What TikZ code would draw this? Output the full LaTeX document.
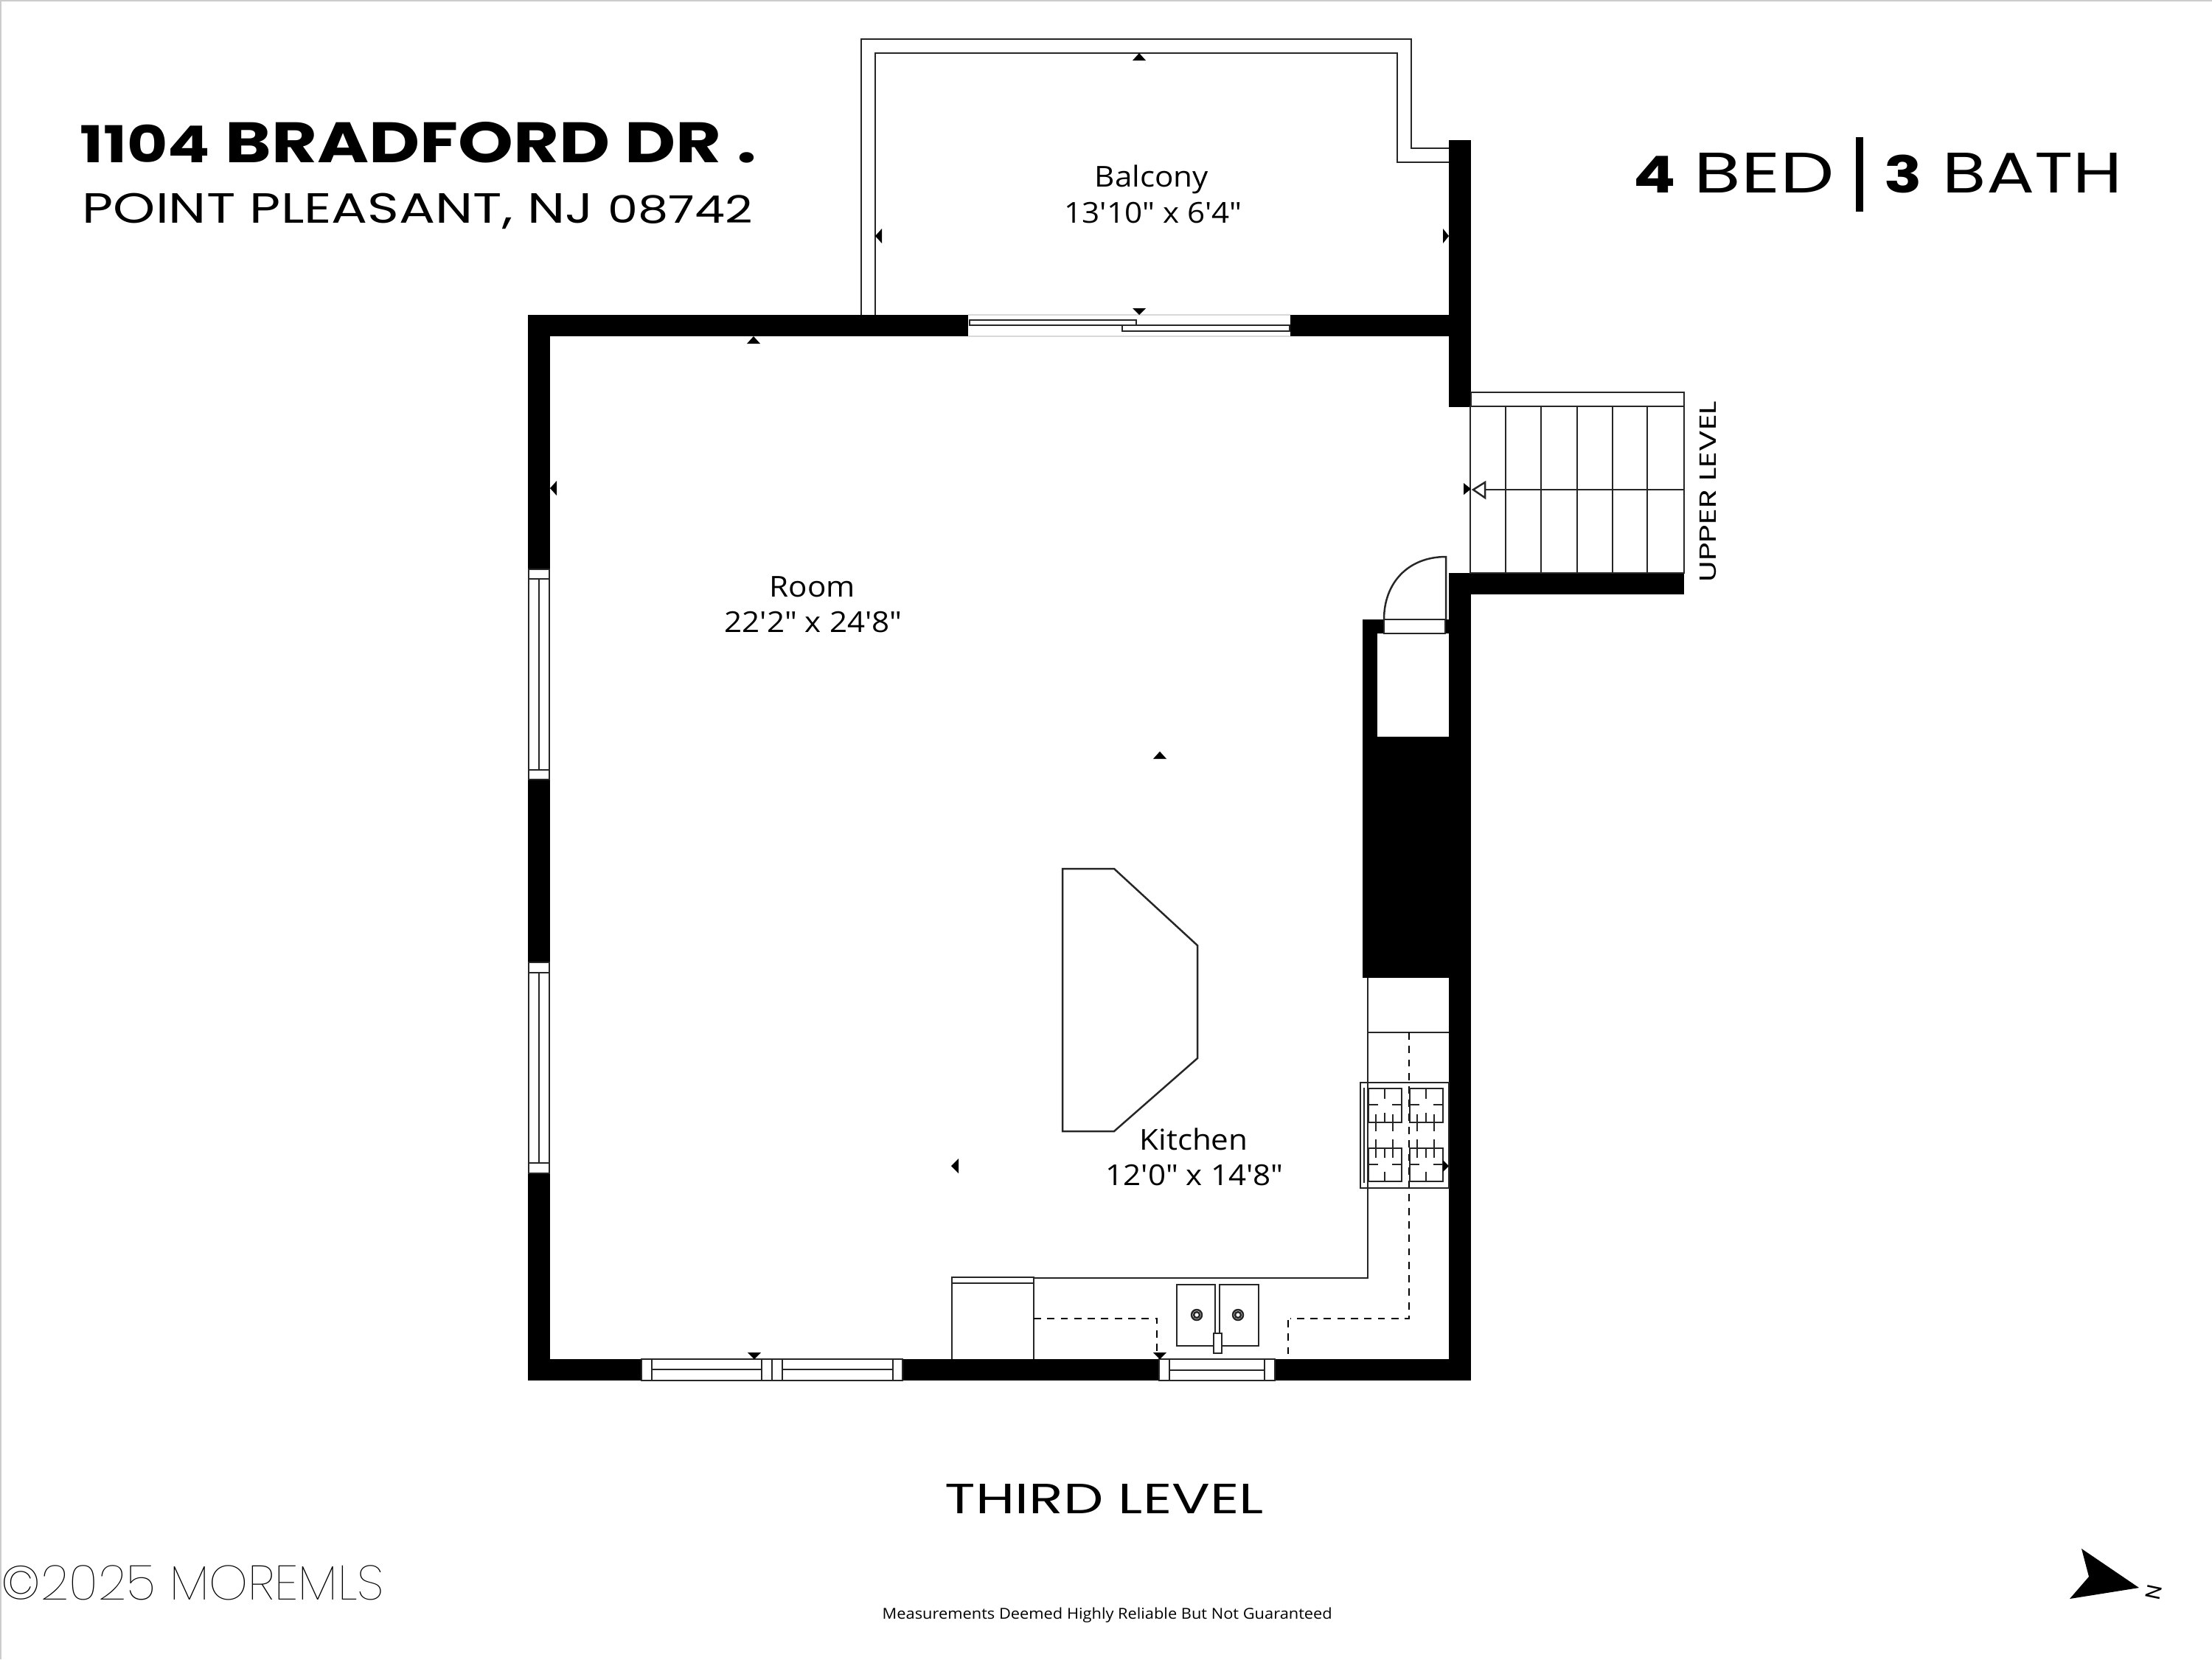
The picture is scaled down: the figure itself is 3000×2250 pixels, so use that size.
\documentclass[tikz,border=0pt]{standalone}
\usepackage{fontspec}
\setmainfont{Open Sans}
\newfontfamily\labelfont[FakeStretch=1.08]{Open Sans}
\newfontfamily\smallfont[FakeStretch=1.07]{Open Sans}
\newfontfamily\plainfont{Poppins}
\newfontfamily\headfont[FakeStretch=1.25]{Poppins}
\newfontfamily\townfont[FakeStretch=1.27]{Poppins}
\newfontfamily\widefont[FakeStretch=1.34]{Poppins}
\newfontfamily\boldfont[FakeStretch=1.23]{Poppins Bold}
\newfontfamily\thinfont[FakeStretch=1.02]{Poppins Thin}
\tikzset{
    wall/.style={fill=black},
    thinline/.style={line width=0.7pt,color=black!85},
    glazing/.style={thinline,fill=white},
    pipeline/.style={line width=0.7pt,dash pattern=on 2.8pt off 2.4pt},
    roomlabel/.style={inner sep=0pt,anchor=base,font=\labelfont\fontsize{11.1}{13}\selectfont},
    titlelabel/.style={inner sep=0pt,anchor=base west}
}

\begin{document}
\begin{tikzpicture}[x=0.01cm,y=-0.01cm]
    \useasboundingbox (0,0) rectangle (3000,2250);
    \draw[color=black!20,line width=0.6pt] (1,2250) -- (1,1) -- (3000,1);

    % balcony
    \draw[thinline] (1168,427) -- (1168,53) -- (1914,53) -- (1914,201) -- (1965,201);
    \draw[thinline] (1187,427) -- (1187,72) -- (1895,72) -- (1895,220) -- (1965,220);

    % walls
    \fill[wall] (716,427) rectangle (746,1872);
    \fill[wall] (716,427) rectangle (1313,456);
    \fill[wall] (1750,427) rectangle (1995,456);
    \fill[wall] (1965,190) rectangle (1995,552);
    \fill[wall] (1965,777) rectangle (1995,1872);
    \fill[wall] (1965,777) rectangle (2284,806);
    \fill[wall] (716,1843) rectangle (1995,1872);
    \fill[wall] (1848,840) rectangle (1868,1000);
    \fill[wall] (1848,999) rectangle (1965,1326);
    \fill[wall] (1848,840) rectangle (1877,859);
    \fill[wall] (1960,840) rectangle (1965,859);

    % sliding door
    \fill[white] (1313,427) rectangle (1750,456);
    \draw[color=black!15,line width=0.6pt] (1313,427) -- (1750,427);
    \draw[color=black!15,line width=0.6pt] (1313,456) -- (1750,456);
    \draw[glazing] (1315,434) rectangle (1541,441);
    \draw[glazing] (1522,441) rectangle (1749,449);

    % left windows
    \draw[glazing] (717,772) rectangle (745,1057);
    \draw[thinline] (717,785) -- (745,785);
    \draw[thinline] (717,1044) -- (745,1044);
    \draw[thinline] (731,785) -- (731,1044);
    \draw[glazing] (717,1305) rectangle (745,1591);
    \draw[thinline] (717,1319) -- (745,1319);
    \draw[thinline] (717,1577) -- (745,1577);
    \draw[thinline] (731,1319) -- (731,1577);

    % bottom windows
    \draw[glazing] (870,1843) rectangle (1224,1872);
    \draw[thinline] (884,1843) -- (884,1872);
    \draw[thinline] (1033,1843) -- (1033,1872);
    \draw[thinline] (1047,1843) -- (1047,1872);
    \draw[thinline] (1061,1843) -- (1061,1872);
    \draw[thinline] (1211,1843) -- (1211,1872);
    \draw[thinline] (884,1857) -- (1033,1857);
    \draw[thinline] (1061,1857) -- (1211,1857);
    \draw[glazing] (1572,1843) rectangle (1729,1872);
    \draw[thinline] (1586,1843) -- (1586,1872);
    \draw[thinline] (1715,1843) -- (1715,1872);
    \draw[thinline] (1586,1858) -- (1715,1858);

    % stairs
    \draw[glazing] (1995,532) rectangle (2284,551);
    \draw[thinline] (1994,551) rectangle (2284,777);
    \draw[thinline] (2042,551) -- (2042,777);
    \draw[thinline] (2090,551) -- (2090,777);
    \draw[thinline] (2139,551) -- (2139,777);
    \draw[thinline] (2187,551) -- (2187,777);
    \draw[thinline] (2234,551) -- (2234,777);
    \draw[thinline] (1998,664) -- (2284,664);
    \draw[glazing] (1998,664) -- (2014,654) -- (2014,675) -- cycle;

    % closet door
    \draw[thinline,fill=white] (1877,840) rectangle (1960,859);
    \draw[thinline] (1877,840) .. controls (1877,790) and (1910,755) .. (1961,755) -- (1961,840);

    % island
    \draw[thinline] (1441,1178) -- (1511,1178) -- (1624,1282) -- (1624,1435) -- (1511,1534) -- (1441,1534) -- cycle;

    % counter
    \draw[thinline] (1855,1326) -- (1855,1733) -- (1402,1733);
    \draw[thinline] (1855,1400) -- (1965,1400);
    \draw[thinline] (1291,1843) -- (1291,1732) -- (1402,1732) -- (1402,1843);
    \draw[thinline] (1291,1740) -- (1402,1740);
    \draw[pipeline] (1911,1400) -- (1911,1788) -- (1750,1788);
    \draw[pipeline] (1747,1790) -- (1747,1843);
    \draw[pipeline] (1402,1788) -- (1569,1788) -- (1569,1834);

    % sink
    \draw[thinline] (1596,1742) rectangle (1648,1825);
    \draw[thinline] (1654,1742) rectangle (1707,1825);
    \draw[thinline] (1623,1783) circle (7);
    \draw[thinline] (1623,1783) circle (4);
    \draw[thinline] (1679,1783) circle (7);
    \draw[thinline] (1679,1783) circle (4);
    \draw[thinline,fill=white] (1646,1808) rectangle (1657,1835);

    % stove
    \draw[thinline] (1845,1468) rectangle (1965,1611);
    \draw[thinline] (1850,1475) -- (1850,1604);
    \foreach \x in {1856,1912} {
        \draw[thinline] (\x,1476) rectangle (\x+45,1522);
        \draw[thinline] (\x,1557) rectangle (\x+45,1602);
        \draw[thinline] (\x+22,1476) -- (\x+22,1490);
        \draw[thinline] (\x+22,1509) -- (\x+22,1522);
        \draw[thinline] (\x+22,1557) -- (\x+22,1570);
        \draw[thinline] (\x+22,1589) -- (\x+22,1602);
        \draw[thinline] (\x,1498) -- (\x+13,1498);
        \draw[thinline] (\x+32,1498) -- (\x+45,1498);
        \draw[thinline] (\x,1579) -- (\x+13,1579);
        \draw[thinline] (\x+32,1579) -- (\x+45,1579);
        \draw[thinline] (\x+10,1511) -- (\x+10,1534);
        \draw[thinline] (\x+33,1511) -- (\x+33,1534);
        \draw[thinline] (\x+10,1545) -- (\x+10,1570);
        \draw[thinline] (\x+33,1545) -- (\x+33,1570);
    }

    % measuring marks
    \fill (1545,72) -- (1536,82) -- (1554,82) -- cycle;
    \fill (1187,320) -- (1196,310) -- (1196,330) -- cycle;
    \fill (1965,320) -- (1957,310) -- (1957,330) -- cycle;
    \fill (1545,427) -- (1536,418) -- (1554,418) -- cycle;
    \fill (1022,456) -- (1013,466) -- (1031,466) -- cycle;
    \fill (746,662) -- (755,652) -- (755,672) -- cycle;
    \fill (1995,663) -- (1985,655) -- (1985,671) -- cycle;
    \fill (1573,1019) -- (1564,1029) -- (1582,1029) -- cycle;
    \fill (1290,1581) -- (1300,1571) -- (1300,1591) -- cycle;
    \fill (1965,1581) -- (1957,1573) -- (1957,1589) -- cycle;
    \fill (1573,1843) -- (1564,1834) -- (1582,1834) -- cycle;
    \fill (1023,1843) -- (1014,1834) -- (1032,1834) -- cycle;

    % room names
    \node[roomlabel] (balconyname) at (1562,253) {Balcony};
    \node[roomlabel] (balconysize) at (1564,302) {13'10" x 6'4"};
    \node[roomlabel] (roomname) at (1102,809) {Room};
    \node[roomlabel] (roomsize) at (1103,857) {22'2" x 24'8"};
    \node[roomlabel] (kitchenname) at (1619,1559) {Kitchen};
    \node[roomlabel] (kitchensize) at (1620,1607) {12'0" x 14'8"};
    \node[inner sep=0pt,anchor=base west,rotate=90,font=\widefont\fontsize{9}{11}\selectfont] (upperlevel) at (2327,790) {UPPER LEVEL};

    % titles
    \node[titlelabel,font=\boldfont\fontsize{22}{26}\selectfont] (address) at (108,220) {{\fontsize{19.6}{26}\selectfont 1104} BRADFORD DR .};
    \node[titlelabel,font=\townfont\fontsize{16.3}{20}\selectfont] (town) at (111,302) {POINT PLEASANT, NJ {\fontsize{14.6}{20}\selectfont 08742}};
    \node[titlelabel,font=\boldfont\fontsize{19.6}{24}\selectfont] (bedcount) at (2215,261) {4};
    \node[titlelabel,font=\widefont\fontsize{22}{26}\selectfont] (bedword) at (2297,261) {BED};
    \fill (2517,186) rectangle (2527,287);
    \node[titlelabel,font=\boldfont\fontsize{19.6}{24}\selectfont] (bathcount) at (2555,261) {3};
    \node[titlelabel,font=\headfont\fontsize{22}{26}\selectfont] (bathword) at (2634,261) {BATH};
    \node[titlelabel,font=\widefont\fontsize{16.3}{20}\selectfont] (levelname) at (1281,2052) {THIRD LEVEL};
    \node[titlelabel,font=\smallfont\fontsize{5.8}{7}\selectfont] (disclaimer) at (1196,2195) {Measurements Deemed Highly Reliable But Not Guaranteed};
    \node[titlelabel,font=\thinfont\fontsize{18.7}{22}\selectfont] (copyright) at (1,2169) {©2025 MOREMLS};

    % north arrow
    \fill (2823,2100) -- (2901,2153) -- (2807,2168) -- (2833,2138) -- cycle;
    \node[inner sep=0pt,rotate=-102,font=\plainfont\fontsize{8}{10}\selectfont] (north) at (2921,2159) {N};
\end{tikzpicture}
\end{document}
